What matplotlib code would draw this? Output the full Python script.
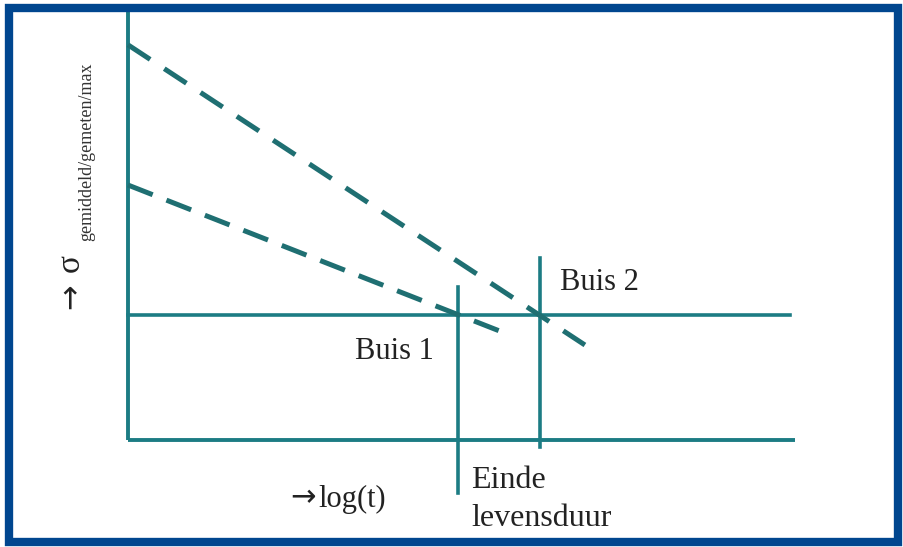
import matplotlib
matplotlib.use('Agg')
import matplotlib.pyplot as plt
from matplotlib.patches import Rectangle

# Schematic: stress vs log(time), two pipes (Buis 1, Buis 2)
# x = log(t) in arbitrary units, y = sigma in arbitrary units
axis_x_end = 10.0
axis_y_end = 10.0
threshold_sigma = 2.91
threshold_x_end = 9.93

# dashed stress lines (start at log(t)=0)
buis2_line_x = [0.0, 6.85]
buis2_line_y = [9.19, 2.21]
buis1_line_x = [0.0, 5.58]
buis1_line_y = [5.93, 2.53]

# end of life markers
buis1_life_x = 4.95
buis1_life_y = [-1.23, 3.56]
buis2_life_x = 6.18
buis2_life_y = [-0.16, 4.23]

teal = '#1c7c84'
dash_teal = '#1f6f72'
frame_blue = '#00468f'
ink = '#222222'
serif = ['Liberation Serif', 'DejaVu Serif']

fig = plt.figure(figsize=(9.04, 5.47), dpi=100)
ax = fig.add_axes([0, 0, 1, 1])
ax.set_xlim(-1.919, 11.634)
ax.set_ylim(-2.488, 10.233)
ax.axis('off')

# outer blue frame
fig.patches.append(Rectangle((0.0095, 0.0085), 0.984, 0.977, transform=fig.transFigure,
                             fill=False, edgecolor=frame_blue, linewidth=6))

# axes
ax.plot([0, 0], [0, axis_y_end], color=teal, lw=2.8, solid_capstyle='butt')
ax.plot([0, axis_x_end], [0, 0], color=teal, lw=2.8, solid_capstyle='butt')

# threshold stress
ax.plot([0, threshold_x_end], [threshold_sigma, threshold_sigma], color=teal, lw=2.6)

# end of life verticals
ax.plot([buis1_life_x, buis1_life_x], buis1_life_y, color=teal, lw=2.6)
ax.plot([buis2_life_x, buis2_life_x], buis2_life_y, color=teal, lw=2.6)

# dashed lines
ax.plot(buis2_line_x, buis2_line_y, color=dash_teal, lw=3.6, dashes=(5.3, 3.38))
ax.plot(buis1_line_x, buis1_line_y, color=dash_teal, lw=3.6, dashes=(5.3, 2.96))

# labels
ax.text(6.48, 3.67, 'Buis 2', family=serif, fontsize=22, color=ink,
        ha='left', va='center')
ax.text(3.4, 2.05, 'Buis 1', family=serif, fontsize=22, color=ink,
        ha='left', va='center')
ax.text(5.15, -0.93, 'Einde', family=serif, fontsize=23, color=ink,
        ha='left', va='center')
ax.text(5.15, -1.82, 'levensduur', family=serif, fontsize=23, color=ink,
        ha='left', va='center')
ax.text(2.43, -1.35, '→', family=['DejaVu Sans'], fontsize=22, color=ink,
        ha='left', va='center')
ax.text(2.85, -1.38, 'log(t)', family=serif, fontsize=22, color=ink,
        ha='left', va='center')

# y label: arrow + sigma with subscript, rotated
ax.text(-0.86, 3.34, '→', family=['DejaVu Sans'], fontsize=22, color=ink,
        rotation=90, ha='center', va='center')
ax.text(-0.86, 4.12, 'σ', family=serif, fontsize=24, color=ink,
        rotation=90, ha='center', va='center')
ax.text(-0.62, 6.7, 'gemiddeld/gemeten/max', family=serif, fontsize=13,
        color='#333333', rotation=90, ha='center', va='center')

fig.savefig('out.png', dpi=100, facecolor='white')
plt.close(fig)
